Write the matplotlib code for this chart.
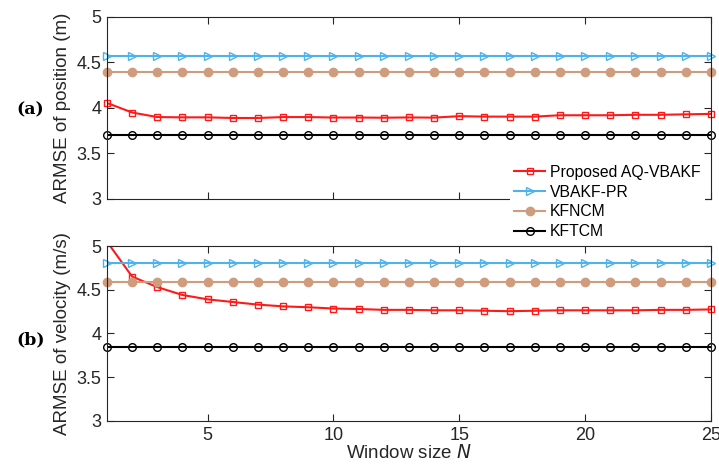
import numpy as np
import matplotlib
matplotlib.use('Agg')
import matplotlib.pyplot as plt

N = np.arange(1, 26)

# ARMSE of position (m)
pos_aqvbakf = [4.055, 3.95, 3.90, 3.897, 3.897, 3.89, 3.89, 3.90, 3.90, 3.895, 3.895, 3.893, 3.896,
               3.894, 3.91, 3.905, 3.905, 3.905, 3.92, 3.92, 3.92, 3.925, 3.925, 3.93, 3.935]
pos_vbakfpr = [4.57] * 25
pos_kfncm = [4.40] * 25
pos_kftcm = [3.70] * 25

# ARMSE of velocity (m/s)
vel_aqvbakf = [5.05, 4.65, 4.53, 4.44, 4.39, 4.36, 4.33, 4.31, 4.30, 4.285, 4.28, 4.27, 4.27,
               4.265, 4.265, 4.26, 4.255, 4.26, 4.265, 4.265, 4.265, 4.265, 4.27, 4.27, 4.275]
vel_vbakfpr = [4.80] * 25
vel_kfncm = [4.59] * 25
vel_kftcm = [3.84] * 25

labels = ['Proposed AQ-VBAKF', 'VBAKF-PR', 'KFNCM', 'KFTCM']
c_red = '#FF1A1A'
c_blue = '#4DB3EA'
c_brown = '#CF9C7E'
c_text = '#262626'

plt.rcParams['font.family'] = ['Liberation Sans', 'DejaVu Sans']

fig = plt.figure(figsize=(7.19, 4.66), dpi=100)
ax1 = fig.add_axes([0.1488, 0.573, 0.840, 0.3906])
ax2 = fig.add_axes([0.1488, 0.0966, 0.840, 0.3755])


def series(ax, y, fmt, color, ms, mfc, label):
    y = np.asarray(y)
    # line clipped to the box, markers allowed to hang over the spines
    ax.plot(N, y, '-', color=color, lw=1.5, label=None)
    inside = y <= 5
    ax.plot(N[inside], y[inside], fmt, color=color, ms=ms, mfc=mfc, mew=1.0,
            ls='none', clip_on=False)
    ax.plot([], [], '-' + fmt, color=color, lw=1.5, ms=ms, mfc=mfc, mew=1.0, label=label)


def draw(ax, red, blue, brown, black):
    series(ax, red, 's', c_red, 5, 'none', labels[0])
    series(ax, blue, '>', c_blue, 6, 'none', labels[1])
    series(ax, brown, 'o', c_brown, 6, c_brown, labels[2])
    series(ax, black, 'o', 'black', 5.5, 'none', labels[3])
    ax.set_xlim(1, 25)
    ax.set_ylim(3, 5)
    ax.set_xticks([5, 10, 15, 20, 25])
    ax.set_yticks([3, 3.5, 4, 4.5, 5])
    ax.set_yticklabels(['3', '3.5', '4', '4.5', '5'])
    ax.tick_params(direction='in', top=True, right=True, length=5, width=0.8,
                   labelsize=13, colors=c_text, pad=4)
    for s in ax.spines.values():
        s.set_color(c_text)
        s.set_linewidth(0.8)


draw(ax1, pos_aqvbakf, pos_vbakfpr, pos_kfncm, pos_kftcm)
draw(ax2, vel_aqvbakf, vel_vbakfpr, vel_kfncm, vel_kftcm)
ax1.tick_params(labelbottom=False)

ax1.set_ylabel('ARMSE of position (m)', fontsize=13.5, color=c_text, labelpad=4)
ax2.set_ylabel('ARMSE of velocity (m/s)', fontsize=13.5, color=c_text, labelpad=4)
ax2.set_xlabel('Window size $\\it{N}$', fontsize=13.5, color=c_text, labelpad=0)

fig.text(0.042, 1 - 110 / 466, '(a)', fontsize=12.5, fontweight='bold',
         family='DejaVu Serif', ha='center', va='center')
fig.text(0.042, 1 - 340 / 466, '(b)', fontsize=12.5, fontweight='bold',
         family='DejaVu Serif', ha='center', va='center')

h, l = ax2.get_legend_handles_labels()
leg = fig.legend(h, l, loc='upper left', bbox_to_anchor=(510 / 719, 1 - 161 / 466),
                 frameon=True, fancybox=False, edgecolor='none', facecolor='white',
                 framealpha=1, fontsize=11.3, handlelength=2.0, handletextpad=0.3,
                 labelspacing=0.3, borderpad=0.25, borderaxespad=0)

fig.savefig('out.png', dpi=100)
